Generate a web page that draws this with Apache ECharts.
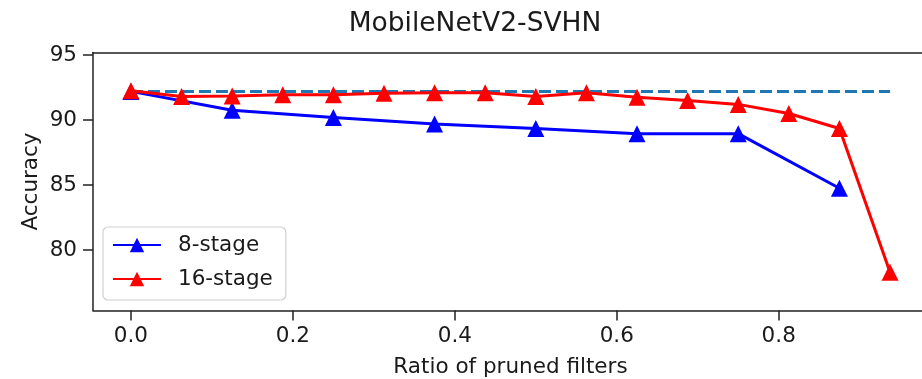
<!DOCTYPE html>
<html>
<head>
<meta charset="utf-8">
<script src="https://cdn.jsdelivr.net/npm/echarts@6/dist/echarts.min.js"></script>
<style>
html,body{margin:0;padding:0;background:#fff;overflow:hidden;width:922px;height:379px;}
#chart{width:950px;height:379px;}
</style>
</head>
<body>
<div id="chart"></div>
<script>
const xTicks = [0.0, 0.2, 0.4, 0.6, 0.8];
const yTicks = [80, 85, 90, 95];
const x8 = [0, 0.125, 0.25, 0.375, 0.5, 0.625, 0.75, 0.875];
const y8 = [92.2, 90.75, 90.2, 89.7, 89.35, 88.95, 88.95, 84.75];
const x16 = [0, 0.0625, 0.125, 0.1875, 0.25, 0.3125, 0.375, 0.4375, 0.5, 0.5625, 0.625, 0.6875, 0.75, 0.8125, 0.875, 0.9375];
const y16 = [92.25, 91.8, 91.85, 91.95, 91.95, 92.05, 92.1, 92.1, 91.8, 92.1, 91.75, 91.5, 91.2, 90.5, 89.35, 78.3];
const baseX = [0, 0.9375];
const baseY = [92.2, 92.2];

const font = 'DejaVu Sans';
const txt = '#1a1a1a';
const zip = (xs, ys) => xs.map((x, i) => [x, ys[i]]);
const xMin = -0.046875, xMax = 0.984375;

const chart = echarts.init(document.getElementById('chart'));
chart.setOption({
  animation: false,
  backgroundColor: '#fff',
  title: {
    text: 'MobileNetV2-SVHN',
    left: 470, top: 6, textAlign: 'center',
    textStyle: {fontFamily: font, fontSize: 26.5, fontWeight: 'normal', color: txt}
  },
  grid: {
    left: 93, top: 52.5, width: 835, height: 258,
    outerBoundsMode: 'none', show: false
  },
  xAxis: [{
    type: 'value', min: xMin, max: xMax,
    name: 'Ratio of pruned filters', nameLocation: 'middle', nameGap: 46,
    nameTextStyle: {fontFamily: font, fontSize: 21.5, color: txt},
    axisLine: {show: true, onZero: false, lineStyle: {color: '#222', width: 1.5}},
    axisTick: {show: true, length: 10, lineStyle: {color: '#222', width: 1.5}, customValues: xTicks},
    axisLabel: {fontFamily: font, fontSize: 21.5, color: txt, margin: 15, customValues: xTicks,
      formatter: v => v.toFixed(1)},
    splitLine: {show: false}
  }, {
    type: 'value', min: xMin, max: xMax, position: 'top',
    axisLine: {show: true, onZero: false, lineStyle: {color: '#222', width: 1.5}},
    axisTick: {show: false}, axisLabel: {show: false}, splitLine: {show: false}
  }],
  yAxis: {
    type: 'value', min: 75.35, max: 95.19,
    name: 'Accuracy', nameLocation: 'middle', nameGap: 51, nameRotate: 90,
    nameMoveOverlap: false,
    nameTextStyle: {fontFamily: font, fontSize: 21.5, color: txt},
    axisLine: {show: true, onZero: false, lineStyle: {color: '#222', width: 1.5}},
    axisTick: {show: true, length: 10, lineStyle: {color: '#222', width: 1.5}, customValues: yTicks},
    axisLabel: {fontFamily: font, fontSize: 21.5, color: txt, margin: 16, customValues: yTicks,
      formatter: v => String(Math.round(v))},
    splitLine: {show: false}
  },
  legend: {
    data: ['8-stage', '16-stage'],
    orient: 'vertical', left: 103, top: 227,
    padding: [7, 13, 10, 9],
    itemWidth: 48, itemHeight: 18, itemGap: 12,
    backgroundColor: 'rgba(255,255,255,0.8)',
    borderColor: '#d0d0d0', borderWidth: 1.2, borderRadius: 5,
    textStyle: {fontFamily: font, fontSize: 21.5, color: txt, padding: [0, 0, 0, 12]}
  },
  series: [
    {
      name: 'baseline', type: 'line', data: zip(baseX, baseY),
      showSymbol: false, symbol: 'none', z: 1,
      lineStyle: {color: '#1f77b4', width: 3, type: [12, 5]}
    },
    {
      name: '8-stage', type: 'line', data: zip(x8, y8), z: 2,
      symbol: 'triangle', symbolSize: 17,
      itemStyle: {color: '#0000ff'},
      lineStyle: {color: '#0000ff', width: 3}
    },
    {
      name: '16-stage', type: 'line', data: zip(x16, y16), z: 3,
      symbol: 'triangle', symbolSize: 17,
      itemStyle: {color: '#ff0000'},
      lineStyle: {color: '#ff0000', width: 3}
    }
  ]
});
</script>
</body>
</html>
